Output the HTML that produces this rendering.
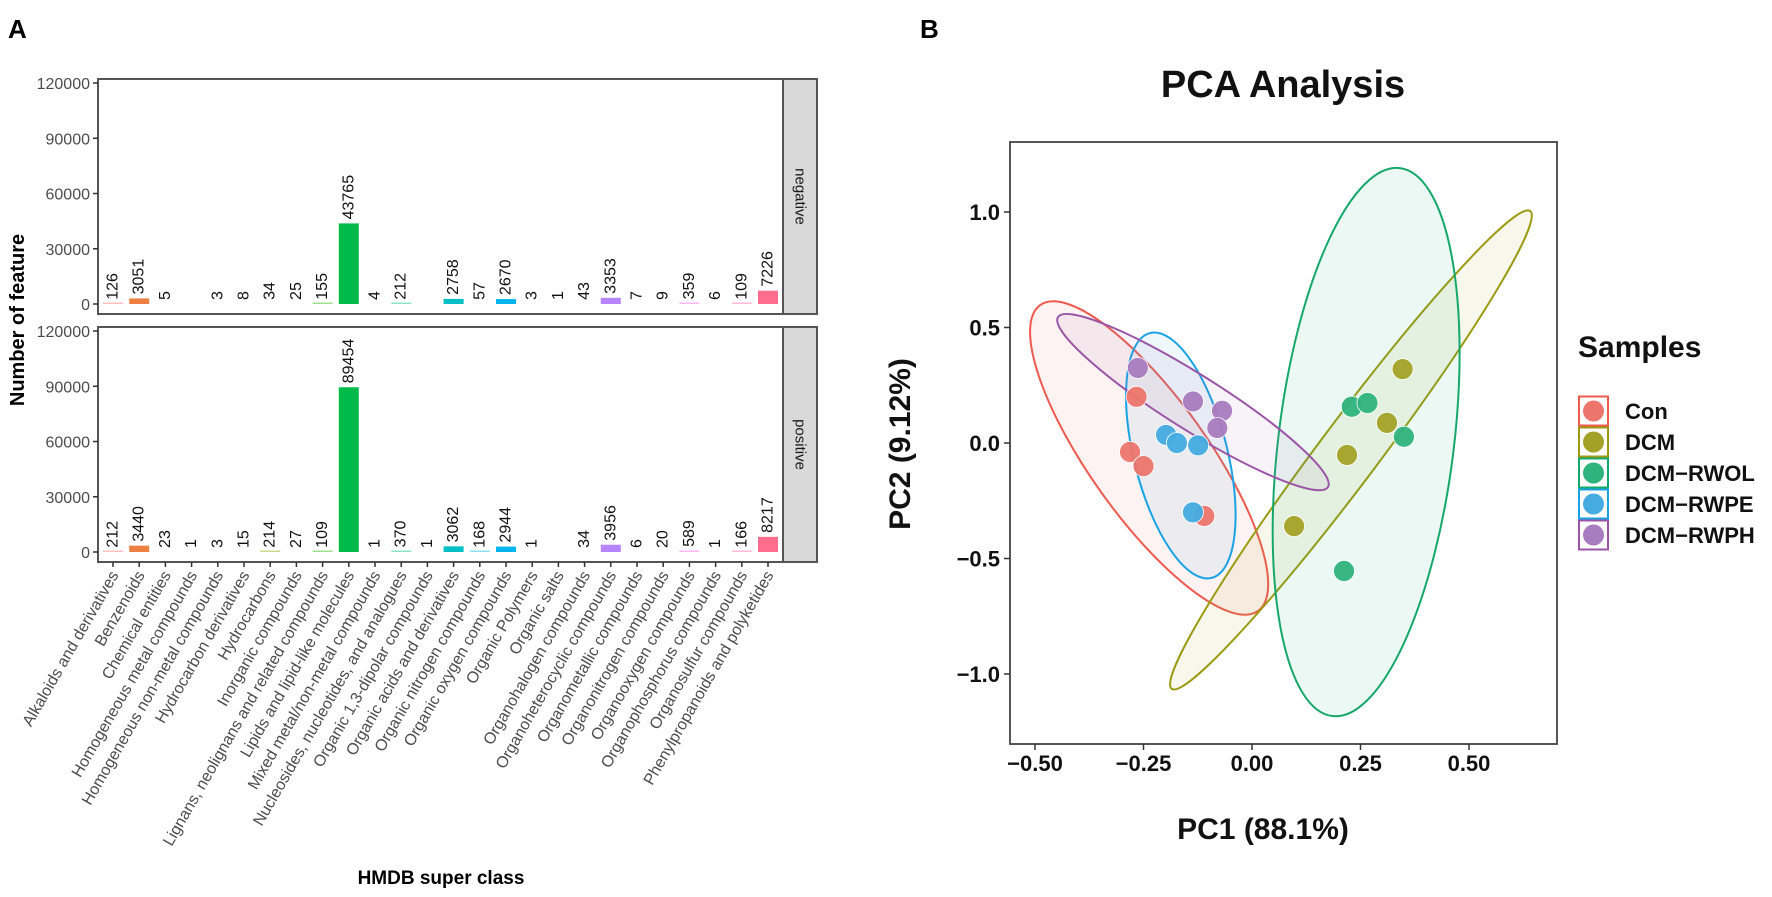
<!DOCTYPE html>
<html><head><meta charset="utf-8"><style>
html,body{margin:0;padding:0;background:#fff;}
svg{display:block;font-family:"Liberation Sans",Arial,sans-serif;}
</style></head><body>
<svg id="fig" width="1772" height="897" viewBox="0 0 1772 897" xmlns="http://www.w3.org/2000/svg">
<text x="8" y="38" font-size="26" font-weight="bold">A</text>
<text x="920" y="38" font-size="26" font-weight="bold">B</text>
<g id="barchart"></g>
<g id="pca"></g>
</svg>
<script>
const categories = ["Alkaloids and derivatives","Benzenoids","Chemical entities","Homogeneous metal compounds","Homogeneous non-metal compounds","Hydrocarbon derivatives","Hydrocarbons","Inorganic compounds","Lignans, neolignans and related compounds","Lipids and lipid-like molecules","Mixed metal/non-metal compounds","Nucleosides, nucleotides, and analogues","Organic 1,3-dipolar compounds","Organic acids and derivatives","Organic nitrogen compounds","Organic oxygen compounds","Organic Polymers","Organic salts","Organohalogen compounds","Organoheterocyclic compounds","Organometallic compounds","Organonitrogen compounds","Organooxygen compounds","Organophosphorus compounds","Organosulfur compounds","Phenylpropanoids and polyketides"];
const negativeValues = [126,3051,5,null,3,8,34,25,155,43765,4,212,null,2758,57,2670,3,1,43,3353,7,9,359,6,109,7226];
const positiveValues = [212,3440,23,1,3,15,214,27,109,89454,1,370,1,3062,168,2944,1,null,34,3956,6,20,589,1,166,8217];
const yTicks = [0,30000,60000,90000,120000];
const facetNames = ["negative","positive"];

const groups = ["Con","DCM","DCM\u2212RWOL","DCM\u2212RWPE","DCM\u2212RWPH"];
const groupColors = ["#EC756C","#A3A126","#2EB37C","#45ABE0","#A97BBF"];
const lineColors = ["#EE5A4F","#9C9A10","#16A86A","#1AA3E4","#9B55A6"];
const pcaGroup = [0,0,0,0, 1,1,1,1, 2,2,2,2, 3,3,3,3, 4,4,4,4];
const pc1 = [-0.266,-0.281,-0.25,-0.11, 0.347,0.311,0.219,0.097, 0.23,0.266,0.35,0.212, -0.198,-0.173,-0.124,-0.136, -0.263,-0.136,-0.069,-0.08];
const pc2 = [0.20,-0.039,-0.10,-0.316, 0.32,0.087,-0.052,-0.36, 0.157,0.173,0.027,-0.554, 0.035,0.0,-0.01,-0.30, 0.325,0.18,0.139,0.065];
const ellCx = [-0.237,0.228,0.263,-0.164,-0.136];
const ellCy = [-0.065,-0.030,0.004,-0.054,0.177];
const ellTipX = [-0.488,0.641,0.341,-0.235,-0.447];
const ellTipY = [0.597,1.004,1.19,0.476,0.545];
const ellRatio = [0.314,0.10,0.318,0.37,0.173];
const pcaXTicks = [-0.5,-0.25,0,0.25,0.5];
const pcaXTickLabels = ["\u22120.50","\u22120.25","0.00","0.25","0.50"];
const pcaYTicks = [-1,-0.5,0,0.5,1];
const pcaYTickLabels = ["\u22121.0","\u22120.5","0.0","0.5","1.0"];

const NS="http://www.w3.org/2000/svg";
function mk(tag, attrs, parent){const e=document.createElementNS(NS,tag);for(const k in attrs)e.setAttribute(k,attrs[k]);parent.appendChild(e);return e;}

function hcl(h,c,l){
  const hr=h*Math.PI/180;const U=c*Math.cos(hr),V=c*Math.sin(hr);
  const Xn=95.047,Yn=100,Zn=108.883;
  const un=4*Xn/(Xn+15*Yn+3*Zn),vn=9*Yn/(Xn+15*Yn+3*Zn);
  const Y=l>8?Yn*Math.pow((l+16)/116,3):Yn*l/903.3;
  const u=U/(13*l)+un,v=V/(13*l)+vn;
  const X=9*Y*u/(4*v),Z=-X/3-5*Y+3*Y/v;
  const x=X/100,y=Y/100,z=Z/100;
  let r=3.2406*x-1.5372*y-0.4986*z,g=-0.9689*x+1.8758*y+0.0415*z,b=0.0557*x-0.2040*y+1.0570*z;
  const gm=t=>{t=t>0.0031308?1.055*Math.pow(t,1/2.4)-0.055:12.92*t;return Math.round(Math.max(0,Math.min(1,t))*255);};
  return "rgb("+gm(r)+","+gm(g)+","+gm(b)+")";
}

const bc=document.getElementById("barchart");
const axX=98, panelR=783, stripR=817;
const panels=[{top:79,bottom:314,zero:304,vals:negativeValues},{top:327,bottom:562,zero:552,vals:positiveValues}];
const pxPerUnit=221/120000;
const x0=113, dx=26.2, bw=20;
function xPos(i){return x0+i*dx;}
panels.forEach((p,pi)=>{
  const yS=v=>p.zero-v*pxPerUnit;
  const g=mk("g",{},bc);
  
  
  const fr=mk("rect",{x:axX,y:p.top,width:panelR-axX,height:p.bottom-p.top,fill:"#fff",stroke:"#555","stroke-width":2},g);
  
  
  const st=mk("rect",{x:panelR,y:p.top,width:stripR-panelR,height:p.bottom-p.top,fill:"#d9d9d9",stroke:"#555","stroke-width":2},g);
  
  
  const stt=mk("text",{x:0,y:0,"font-size":15,fill:"#1a1a1a","text-anchor":"middle",transform:"translate("+(panelR+stripR)/2+","+(p.top+p.bottom)/2+") rotate(90)","dominant-baseline":"central"},g);
  stt.textContent=facetNames[pi];
  
  
  yTicks.forEach(t=>{
    const y=yS(t);
    const tl=mk("line",{x1:axX-5,x2:axX,y1:y,y2:y,stroke:"#333","stroke-width":1.5},g);
    
    
    const tx=mk("text",{x:axX-8,y:y+6,"font-size":16,fill:"#4d4d4d","text-anchor":"end"},g);
    tx.textContent=String(t);
    
    
  });
  p.vals.forEach((v,i)=>{
    if(v===null) return;
    const col=hcl(15+360*i/26,100,65);
    const cx=xPos(i);
    let h=v*pxPerUnit;
    if(v>=100 && h<1.5) h=1.5;
    if(h>0){
      const r=mk("rect",{x:cx-bw/2,y:p.zero-h,width:bw,height:h,fill:col,opacity:v<1000?0.45:1},g);
      
      
    }
    const ly=p.zero-v*pxPerUnit-4;
    const lt=mk("text",{x:0,y:0,"font-size":16,fill:"#111","dominant-baseline":"central",transform:"translate("+cx+","+ly+") rotate(-90)"},g);
    lt.textContent=String(v);
    
    
  });
});
categories.forEach((c,i)=>{
  const cx=xPos(i);
  const tk=mk("line",{x1:cx,x2:cx,y1:562,y2:567,stroke:"#333","stroke-width":1.5},bc);
  
  
  const t=mk("text",{x:0,y:0,"font-size":16,fill:"#4d4d4d","text-anchor":"end",transform:"translate("+(cx+6)+",575) rotate(-60)"},bc);
  t.textContent=c;
  
  
});
const yt=mk("text",{x:0,y:0,"font-size":20,"font-weight":"bold","text-anchor":"middle",transform:"translate(24,320) rotate(-90)"},bc);
yt.textContent="Number of feature";


const xt=mk("text",{x:441,y:884,"font-size":19,"font-weight":"bold","text-anchor":"middle"},bc);
xt.textContent="HMDB super class";



const pc=document.getElementById("pca");
const L=1010,R=1557,T=142,B=744;
const sx=v=>1252+434*v, sy=v=>443-231*v;
const bg=mk("rect",{x:L,y:T,width:R-L,height:B-T,fill:"#fff",stroke:"none"},pc);


const clip=mk("clipPath",{id:"pcaclip"},pc);
mk("rect",{x:L,y:T,width:R-L,height:B-T},clip);
const eg=mk("g",{"clip-path":"url(#pcaclip)"},pc);
groups.forEach((gname,k)=>{
  const cx=sx(ellCx[k]),cy=sy(ellCy[k]);
  const tx=sx(ellTipX[k])-cx,ty=sy(ellTipY[k])-cy;
  const a=Math.hypot(tx,ty), b=a*ellRatio[k];
  const ang=Math.atan2(ty,tx)*180/Math.PI;
  const e=mk("ellipse",{cx:0,cy:0,rx:a,ry:b,transform:"translate("+cx+","+cy+") rotate("+ang+")",fill:groupColors[k],"fill-opacity":0.09,stroke:lineColors[k],"stroke-width":2},eg);
  
  
});
pc1.forEach((v,i)=>{
  const c=mk("circle",{cx:sx(v),cy:sy(pc2[i]),r:10.5,fill:groupColors[pcaGroup[i]],"fill-opacity":0.95,stroke:"#fff","stroke-width":0.8},eg);
  
  
});
const border=mk("rect",{x:L,y:T,width:R-L,height:B-T,fill:"none",stroke:"#444","stroke-width":1.8},pc);


pcaXTicks.forEach((t,i)=>{
  const x=sx(t);
  const l=mk("line",{x1:x,x2:x,y1:B,y2:B+6,stroke:"#333","stroke-width":1.5},pc);
  
  
  const tt=mk("text",{x:x,y:B+27,"font-size":22,"font-weight":"bold","text-anchor":"middle",fill:"#111"},pc);
  tt.textContent=pcaXTickLabels[i];
  
  
});
pcaYTicks.forEach((t,i)=>{
  const y=sy(t);
  const l=mk("line",{x1:L-6,x2:L,y1:y,y2:y,stroke:"#333","stroke-width":1.5},pc);
  
  
  const tt=mk("text",{x:L-10,y:y+8,"font-size":22,"font-weight":"bold","text-anchor":"end",fill:"#111"},pc);
  tt.textContent=pcaYTickLabels[i];
  
  
});
const ttl=mk("text",{x:1283,y:97,"font-size":38,"font-weight":"bold","text-anchor":"middle",fill:"#111"},pc);
ttl.textContent="PCA Analysis";


const xl=mk("text",{x:1263,y:839,"font-size":30,"font-weight":"bold","text-anchor":"middle",fill:"#111"},pc);
xl.textContent="PC1 (88.1%)";


const yl=mk("text",{x:0,y:0,"font-size":30,"font-weight":"bold","text-anchor":"middle",fill:"#111",transform:"translate(910,444) rotate(-90)"},pc);
yl.textContent="PC2 (9.12%)";


const lg=mk("g",{},pc);


const lt=mk("text",{x:1578,y:357,"font-size":30,"font-weight":"bold",fill:"#111"},lg);
lt.textContent="Samples";


groups.forEach((gname,k)=>{
  const cy=411+k*31;
  const e=mk("g",{},lg);
  
  
  mk("rect",{x:1579,y:cy-14.5,width:29,height:29,fill:"#fff",stroke:lineColors[k],"stroke-width":2},e);
  mk("circle",{cx:1593.5,cy:cy,r:10.5,fill:groupColors[k]},e);
  const t=mk("text",{x:1625,y:cy+8,"font-size":22,"font-weight":"bold",fill:"#111"},e);
  t.textContent=gname;
});
</script>
</body></html>
